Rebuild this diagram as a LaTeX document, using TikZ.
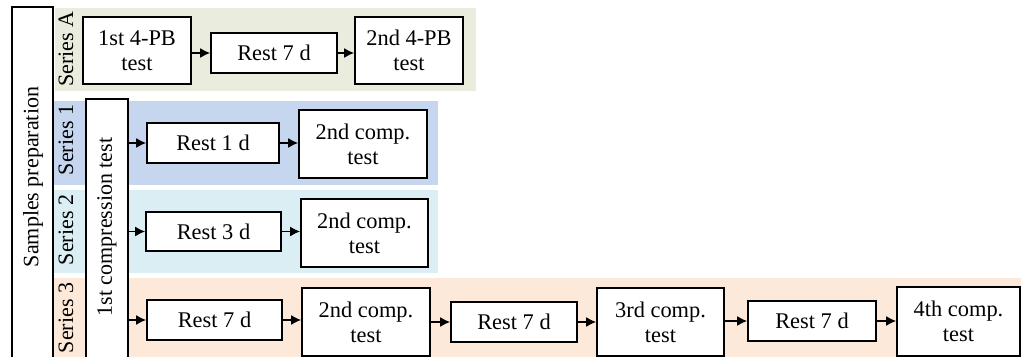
\documentclass[tikz,border=0pt]{standalone}
\usepackage{fontspec}
\setmainfont{Liberation Serif}
\usetikzlibrary{arrows.meta,fit}
\definecolor{bandA}{HTML}{EAEDDE}
\definecolor{bandOne}{HTML}{C6D6EF}
\definecolor{bandTwo}{HTML}{DAEEF3}
\definecolor{bandThree}{HTML}{FDE9D9}
\tikzset{
  box/.style={draw=black, fill=white, line width=0.85pt, inner sep=0pt, align=center,
    font=\fontsize{11.2}{12.6}\selectfont},
  frame/.style={draw=black, fill=white, line width=0.85pt, inner sep=0pt},
  band/.style={draw=none, inner sep=0pt},
  vlabel/.style={rotate=90, inner sep=0pt, font=\fontsize{11}{12.6}\selectfont},
  flow/.style={line width=0.8pt, -{Latex[length=5pt,width=5pt]}},
  % box sizes: width and height in pt
  sz/.style 2 args={minimum width=#1pt, minimum height=#2pt}
}
\begin{document}
\begin{tikzpicture}[x=0.5pt,y=-0.5pt]
\useasboundingbox (0,0) rectangle (1021,357);
\clip (0,0) rectangle (1021,357);

% coloured series bands
\node[band, fill=bandA,     fit={(55,8) (476,91)}]    (bandA) {};
\node[band, fill=bandOne,   fit={(54,101) (438,185)}] (band1) {};
\node[band, fill=bandTwo,   fit={(54,190) (438,273)}] (band2) {};
\node[band, fill=bandThree, fit={(54,278) (1030,380)}] (band3) {};

% series names
\node[vlabel] (labA) at (66,49)  {Series A};
\node[vlabel] (lab1) at (66,140) {Series 1};
\node[vlabel] (lab2) at (66,230) {Series 2};
\node[vlabel] (lab3) at (66,318) {Series 3};

% preparation and first compression test
\node[frame, fit={(12,7) (53,390)}] (prep) {};
\node[vlabel] (preptext) at (33,177) {Samples preparation};
\node[frame, fit={(86,99) (128,390)}] (comp1) {};
\node[vlabel] (comp1text) at (107,227) {1st compression test};

% series A
\node[box, sz={54}{33.5}]   (a1) at (137,50.5)  {1st 4-PB\\test};
\node[box, sz={63}{20}]     (a2) at (274,53)    {Rest 7 d};
\node[box, sz={54}{33.5}]   (a3) at (409,50.5)  {2nd 4-PB\\test};

% series 1
\node[box, sz={66}{20}]     (s1r) at (213,143)   {Rest 1 d};
\node[box, sz={64}{34}]     (s1c) at (363,144)   {2nd comp.\\test};

% series 2
\node[box, sz={67.5}{19.5}] (s2r) at (213.5,231.5) {Rest 3 d};
\node[box, sz={63.5}{34}]   (s2c) at (364.5,233)   {2nd comp.\\test};

% series 3
\node[box, sz={67.5}{20}]   (s3r1) at (214.5,320) {Rest 7 d};
\node[box, sz={64}{34}]     (s3c2) at (366,322)   {2nd comp.\\test};
\node[box, sz={63}{20}]     (s3r2) at (514,322)   {Rest 7 d};
\node[box, sz={63.5}{34}]   (s3c3) at (660.5,322) {3rd comp.\\test};
\node[box, sz={64}{20}]     (s3r3) at (812,321)   {Rest 7 d};
\node[box, sz={61.5}{34.5}] (s3c4) at (958.5,321.5) {4th comp.\\test};

% connectors
\draw[flow] (a1.east |- a2.west) -- (a2.west);
\draw[flow] (a2.east) -- (a2.east -| a3.west);
\draw[flow] (comp1.east |- s1r.west) -- (s1r.west);
\draw[flow] (s1r.east) -- (s1r.east -| s1c.west);
\draw[flow] (comp1.east |- s2r.west) -- (s2r.west);
\draw[flow] (s2r.east) -- (s2r.east -| s2c.west);
\draw[flow] (comp1.east |- s3r1.west) -- (s3r1.west);
\draw[flow] (s3r1.east) -- (s3r1.east -| s3c2.west);
\draw[flow] (s3c2.east |- s3r2.west) -- (s3r2.west);
\draw[flow] (s3r2.east) -- (s3r2.east -| s3c3.west);
\draw[flow] (s3c3.east |- s3r3.west) -- (s3r3.west);
\draw[flow] (s3r3.east) -- (s3r3.east -| s3c4.west);
\end{tikzpicture}
\end{document}
